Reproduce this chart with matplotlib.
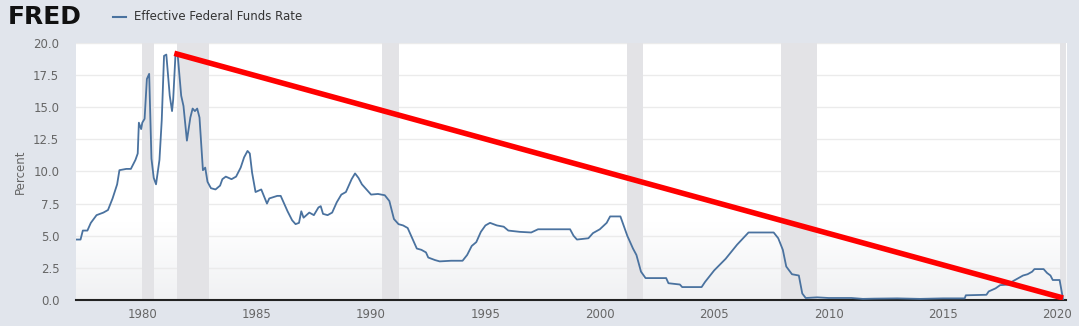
import matplotlib.pyplot as plt
import numpy as np
from matplotlib.colors import LinearSegmentedColormap

# ------------ Data ----------------------------------
# decimal year, percent
years = [
    1977.1, 1977.3, 1977.4, 1977.6, 1977.75, 1978.0, 1978.3, 1978.5, 1978.7, 1978.9,
    1979.0, 1979.3, 1979.5, 1979.7, 1979.8, 1979.85, 1979.95, 1980.0, 1980.1, 1980.2,
    1980.3, 1980.4, 1980.5, 1980.6, 1980.75, 1980.85, 1980.95, 1981.05, 1981.2, 1981.3,
    1981.35, 1981.45, 1981.55, 1981.7, 1981.8, 1981.9, 1981.95, 1982.1, 1982.2, 1982.3,
    1982.4, 1982.5, 1982.65, 1982.75, 1982.85, 1983.0, 1983.2, 1983.4, 1983.5, 1983.65,
    1983.9, 1984.1, 1984.3, 1984.45, 1984.6, 1984.7, 1984.8, 1984.95, 1985.2, 1985.45,
    1985.55, 1985.9, 1986.05, 1986.2, 1986.35, 1986.55, 1986.7, 1986.85, 1986.95, 1987.05,
    1987.3, 1987.5, 1987.7, 1987.8, 1987.9, 1988.1, 1988.3, 1988.5, 1988.7, 1988.9,
    1989.15, 1989.3, 1989.45, 1989.6, 1989.8, 1990.0, 1990.3, 1990.6, 1990.8, 1991.0,
    1991.2, 1991.4, 1991.6, 1991.8, 1992.0, 1992.2, 1992.4, 1992.5, 1992.8, 1993.0,
    1993.5, 1994.0, 1994.2, 1994.4, 1994.6, 1994.8, 1995.0, 1995.2, 1995.5, 1995.8,
    1996.0, 1996.5, 1997.0, 1997.3, 1997.7, 1998.0, 1998.7, 1998.85, 1999.0, 1999.5,
    1999.7, 2000.0, 2000.3, 2000.45, 2000.9, 2001.0, 2001.2, 2001.45, 2001.6, 2001.8,
    2002.0, 2002.9, 2003.0, 2003.5, 2003.6, 2004.45, 2004.6, 2005.0, 2005.5, 2006.0,
    2006.5, 2007.6, 2007.8, 2008.0, 2008.15, 2008.4, 2008.7, 2008.85, 2009.0, 2009.5,
    2010.0, 2011.0, 2011.5, 2012.0, 2013.0, 2014.0, 2015.0, 2015.95, 2016.0, 2016.9,
    2017.0, 2017.3, 2017.5, 2017.9, 2018.0, 2018.3, 2018.5, 2018.7, 2018.9, 2019.0,
    2019.4, 2019.55, 2019.7, 2019.8, 2020.1, 2020.25,
]
rate = [
    4.7, 4.7, 5.4, 5.4, 6.0, 6.6, 6.8, 7.0, 7.9, 9.0,
    10.1, 10.2, 10.2, 10.9, 11.4, 13.8, 13.3, 13.8, 14.1, 17.2,
    17.6, 11.0, 9.5, 9.0, 10.9, 14.0, 19.0, 19.1, 15.9, 14.7,
    15.6, 19.1, 19.0, 15.9, 15.1, 13.3, 12.4, 14.2, 14.9, 14.7,
    14.9, 14.2, 10.1, 10.3, 9.2, 8.7, 8.6, 8.9, 9.4, 9.6,
    9.4, 9.6, 10.3, 11.1, 11.6, 11.4, 9.9, 8.4, 8.6, 7.5,
    7.9, 8.1, 8.1, 7.5, 6.9, 6.2, 5.9, 6.0, 6.9, 6.4,
    6.8, 6.6, 7.2, 7.3, 6.7, 6.6, 6.8, 7.6, 8.2, 8.4,
    9.4, 9.85, 9.5, 9.0, 8.6, 8.2, 8.25, 8.15, 7.7, 6.3,
    5.9, 5.8, 5.6, 4.8, 4.0, 3.9, 3.7, 3.3, 3.1, 3.0,
    3.05, 3.05, 3.5, 4.2, 4.5, 5.3, 5.8, 6.0, 5.8, 5.7,
    5.4, 5.3, 5.25, 5.5, 5.5, 5.5, 5.5, 5.0, 4.7, 4.8,
    5.2, 5.5, 6.0, 6.5, 6.5, 6.0, 5.0, 4.0, 3.5, 2.2,
    1.7, 1.7, 1.3, 1.2, 1.0, 1.0, 1.4, 2.3, 3.2, 4.3,
    5.25, 5.25, 4.8, 3.9, 2.6, 2.0, 1.9, 0.5, 0.15, 0.2,
    0.15, 0.15, 0.08, 0.1, 0.12, 0.08, 0.12, 0.12, 0.36, 0.4,
    0.66, 0.9, 1.15, 1.2, 1.4, 1.7, 1.9, 2.0, 2.2, 2.4,
    2.4, 2.1, 1.9, 1.55, 1.55, 0.05,
]

# recession periods (start, end)
rec_start = [1980.0, 1981.5, 1990.5, 2001.2, 2007.9, 2020.1]
rec_end = [1980.5, 1982.9, 1991.2, 2001.9, 2009.5, 2020.4]

# red trend line drawn over the chart
trend_x = [1981.4, 2020.25]
trend_y = [19.2, 0.15]

yticks = [0.0, 2.5, 5.0, 7.5, 10.0, 12.5, 15.0, 17.5, 20.0]
xticks = [1980, 1985, 1990, 1995, 2000, 2005, 2010, 2015, 2020]
# -----------------------------------------------------

BG = "#e1e5ec"
LINE = "#4a729f"

fig = plt.figure(figsize=(10.79, 3.26), dpi=100, facecolor=BG)
ax = fig.add_axes([0.0704, 0.080, 0.918, 0.788])
ax.set_facecolor("white")

# soft grey fade at the bottom of the plot area
grad = np.linspace(0, 1, 256).reshape(-1, 1)
grad = np.clip(grad / 0.3, 0, 1)
cmap = LinearSegmentedColormap.from_list("g", ["#f0f1f3", "#ffffff"])
ax.imshow(grad, extent=[0, 1, 0, 1], transform=ax.transAxes, aspect="auto",
          cmap=cmap, origin="lower", zorder=0)

for a, b in zip(rec_start, rec_end):
    ax.axvspan(a, b, color="#e3e3e6", zorder=1, lw=0)

ax.set_yticks(yticks)
ax.set_yticklabels([f"{v:.1f}" for v in yticks])
ax.set_xticks(xticks)
ax.grid(axis="y", color="#ebebeb", lw=1, zorder=1)
ax.set_axisbelow(True)

ax.plot(years, rate, color=LINE, lw=1.3, zorder=3)
ax.plot(trend_x, trend_y, color="#ff0000", lw=4, zorder=4, solid_capstyle="butt")

ax.set_xlim(1977.1, 2020.4)
ax.set_ylim(0, 20)

for s in ["top", "right", "left"]:
    ax.spines[s].set_visible(False)
ax.spines["bottom"].set_color("#222222")
ax.spines["bottom"].set_linewidth(1.5)
ax.tick_params(axis="both", length=0, colors="#666666", labelsize=8.5, pad=6)
ax.tick_params(axis="y", pad=12)
ax.set_ylabel("Percent", color="#666666", fontsize=8.5)
ax.yaxis.set_label_coords(-0.050, 0.5)

# header: logo + legend
fig.text(0.007, 0.948, "FRED", fontsize=18, fontweight="heavy", color="#111111",
         va="center", family="DejaVu Sans")
fig.add_artist(plt.Line2D([0.105, 0.117], [0.948, 0.948], color=LINE, lw=1.5))
fig.text(0.124, 0.948, "Effective Federal Funds Rate", fontsize=8.5,
         color="#333333", va="center")

fig.savefig("out.png", dpi=100, facecolor=BG)
